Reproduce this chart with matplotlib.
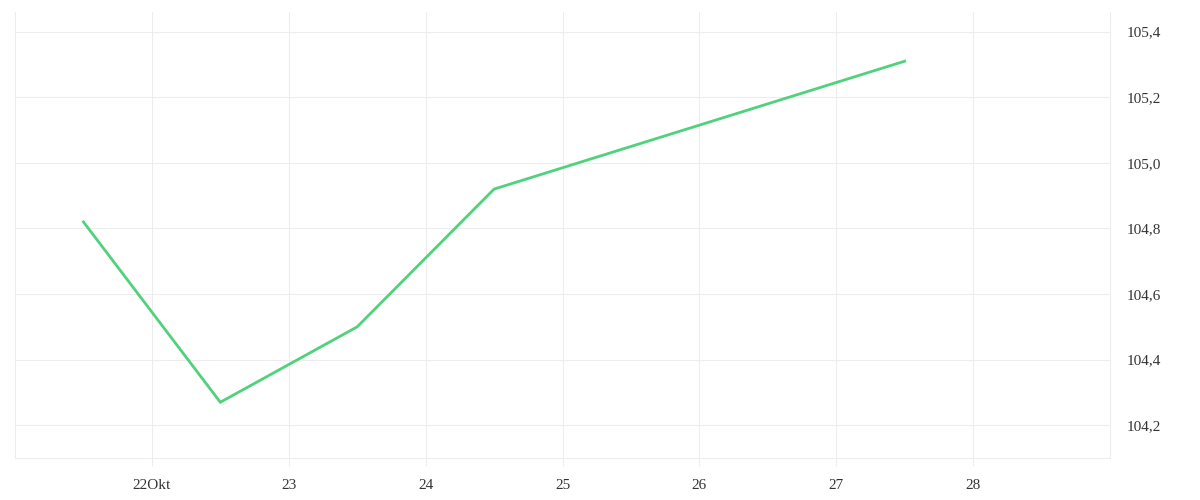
import matplotlib
matplotlib.use("Agg")
import matplotlib.pyplot as plt
from matplotlib.ticker import FuncFormatter

days = [21.5, 22.5, 23.5, 24.5, 27.5]
values = [104.82, 104.27, 104.50, 104.92, 105.31]
x_ticks = [22, 23, 24, 25, 26, 27, 28]
x_labels = ["22Okt", "23", "24", "25", "26", "27", "28"]
y_ticks = [104.2, 104.4, 104.6, 104.8, 105.0, 105.2, 105.4]

grid_color = "#ededed"
text_color = "#333333"

plt.rcParams["font.family"] = ["Liberation Serif", "DejaVu Serif"]

fig = plt.figure(figsize=(12, 5), dpi=100)
ax = fig.add_axes([0.0125, 0.084, 0.9125, 0.892])

ax.plot(days, values, color="#4fd27b", linewidth=2.0, solid_joinstyle="miter")

ax.set_xlim(21, 29)
ax.set_ylim(104.1, 105.46)
ax.set_xticks(x_ticks)
ax.set_xticklabels(x_labels)
ax.set_yticks(y_ticks)
ax.yaxis.set_major_formatter(FuncFormatter(lambda v, p: f"{v:.1f}".replace(".", ",")))
ax.yaxis.tick_right()

ax.grid(True, color=grid_color, linewidth=0.8)
ax.set_axisbelow(True)
ax.spines["top"].set_visible(False)
for side in ["left", "right", "bottom"]:
    ax.spines[side].set_color(grid_color)
    ax.spines[side].set_linewidth(0.8)

ax.tick_params(axis="x", length=6, width=0.8, color=grid_color, labelsize=11, labelcolor=text_color, pad=9)
ax.tick_params(axis="y", length=0, labelsize=11, labelcolor=text_color, pad=12)

fig.savefig("out.png", dpi=100, facecolor="white")
